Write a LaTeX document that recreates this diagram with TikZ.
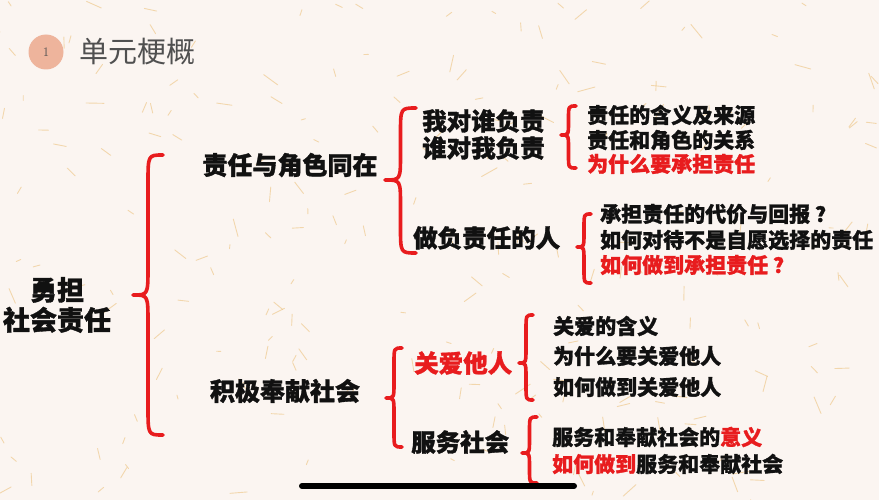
\documentclass[tikz,border=0pt]{standalone}
\usepackage{fontspec}
\newfontfamily\cjk{Noto Sans CJK SC}[BoldFeatures={FakeBold=1.3}]
\definecolor{bgc}{RGB}{251,245,241}
\definecolor{fib}{RGB}{232,178,90}
\definecolor{bred}{RGB}{232,28,30}
\definecolor{circ}{RGB}{238,180,156}
\definecolor{ttl}{RGB}{80,80,80}
\definecolor{txt}{RGB}{17,17,17}
\tikzset{
  bracestyle/.style={draw=bred, line width=3.6pt, line cap=round, line join=round},
  lvl0/.style={font=\cjk\bfseries\fontsize{27}{32}\selectfont, text=txt, align=center, inner sep=0pt},
  lvl1/.style={font=\cjk\bfseries\fontsize{25}{30}\selectfont, text=txt, inner sep=0pt},
  lvl2/.style={font=\cjk\bfseries\fontsize{24.5}{29}\selectfont, text=txt, inner sep=0pt},
  item/.style={font=\cjk\bfseries\fontsize{21}{25}\selectfont, text=txt, anchor=west, inner sep=0pt},
  redtxt/.style={text=bred}
}
% #1 tip x, #2 end x, #3 top y, #4 mid y, #5 bottom y, #6 curve length
\newcommand\mybrace[6]{%
  \draw[bracestyle] (#2,#3) .. controls ({(#1+#2)/2},#3) .. ({(#1+#2)/2},{#3+#6})
    -- ({(#1+#2)/2},{#4-#6}) .. controls ({(#1+#2)/2},#4) .. (#1,#4)
    .. controls ({(#1+#2)/2},#4) .. ({(#1+#2)/2},{#4+#6})
    -- ({(#1+#2)/2},{#5-#6}) .. controls ({(#1+#2)/2},#5) .. (#2,#5);}
\begin{document}
\begin{tikzpicture}[x=1pt,y=-1pt]
\fill[bgc] (0,0) rectangle (879,500);
\useasboundingbox (0,0) rectangle (879,500);
\pgfmathsetseed{11}
\foreach \i in {1,...,220}{
  \pgfmathsetmacro\fx{rnd*879}
  \pgfmathsetmacro\fy{rnd*500}
  \pgfmathsetmacro\fa{rnd*180}
  \pgfmathsetmacro\fl{4+rnd*14}
  \draw[fib, opacity=0.45, line width=0.9pt, line cap=round] (\fx,\fy) -- ++(\fa:\fl);
}
% title
\node[circle, fill=circ, minimum size=35pt, inner sep=0pt, font=\fontsize{13}{15}\selectfont, text=ttl] (num) at (46,52) {1};
\node[anchor=west, inner sep=0pt, font=\cjk\fontsize{29}{34}\selectfont, text=ttl] (title) at (79,52) {单元梗概};
% root
\node[lvl0] (root) at (57,305) {勇担\\[-2pt]社会责任};
\mybrace{133}{163}{155}{295}{435}{28}
% level 1
\node[lvl1] (a) at (290,165) {责任与角色同在};
\node[lvl1] (b) at (285,391) {积极奉献社会};
% level 2 under a
\mybrace{385}{416}{108}{180}{253}{26}
\node[lvl2, anchor=west] (a1) at (422,121) {我对谁负责};
\node[lvl2, anchor=west] (a1b) at (422,148) {谁对我负责};
\node[lvl2, anchor=west] (a2) at (413,238) {做负责任的人};
% items a1
\mybrace{561}{576}{106}{135}{168}{13}
\node[item] (i1) at (587,115) {责任的含义及来源};
\node[item] (i2) at (587,140) {责任和角色的关系};
\node[item, redtxt] (i3) at (587,164) {为什么要承担责任};
% items a2
\mybrace{577}{591}{214}{247}{283}{14}
\node[item] (j1) at (600,214) {承担责任的代价与回报\hspace{5pt}？};
\node[item] (j2) at (600,240) {如何对待不是自愿选择的责任};
\node[item, redtxt] (j3) at (600,265) {如何做到承担责任\hspace{5pt}？};
% level 2 under b
\mybrace{386}{402}{348}{398}{447}{15}
\node[lvl2, anchor=west, redtxt] (b1) at (414,363) {关爱他人};
\node[lvl2, anchor=west] (b2) at (411,442) {服务社会};
% items b1
\mybrace{519}{533}{315}{363}{400}{15}
\node[item] (k1) at (553,326) {关爱的含义};
\node[item] (k2) at (553,356) {为什么要关爱他人};
\node[item] (k3) at (553,387) {如何做到关爱他人};
% items b2
\mybrace{522}{537}{417}{453}{483}{14}
\node[item] (l1) at (552,437) {服务和奉献社会的\textcolor{bred}{意义}};
\node[item] (l2) at (552,464) {\textcolor{bred}{如何做到}服务和奉献社会};
% bottom bar
\coordinate (barL) at (302,486);
\coordinate (barR) at (574,486);
\draw[black, line width=6pt, line cap=round] (barL) -- (barR);
\end{tikzpicture}
\end{document}
